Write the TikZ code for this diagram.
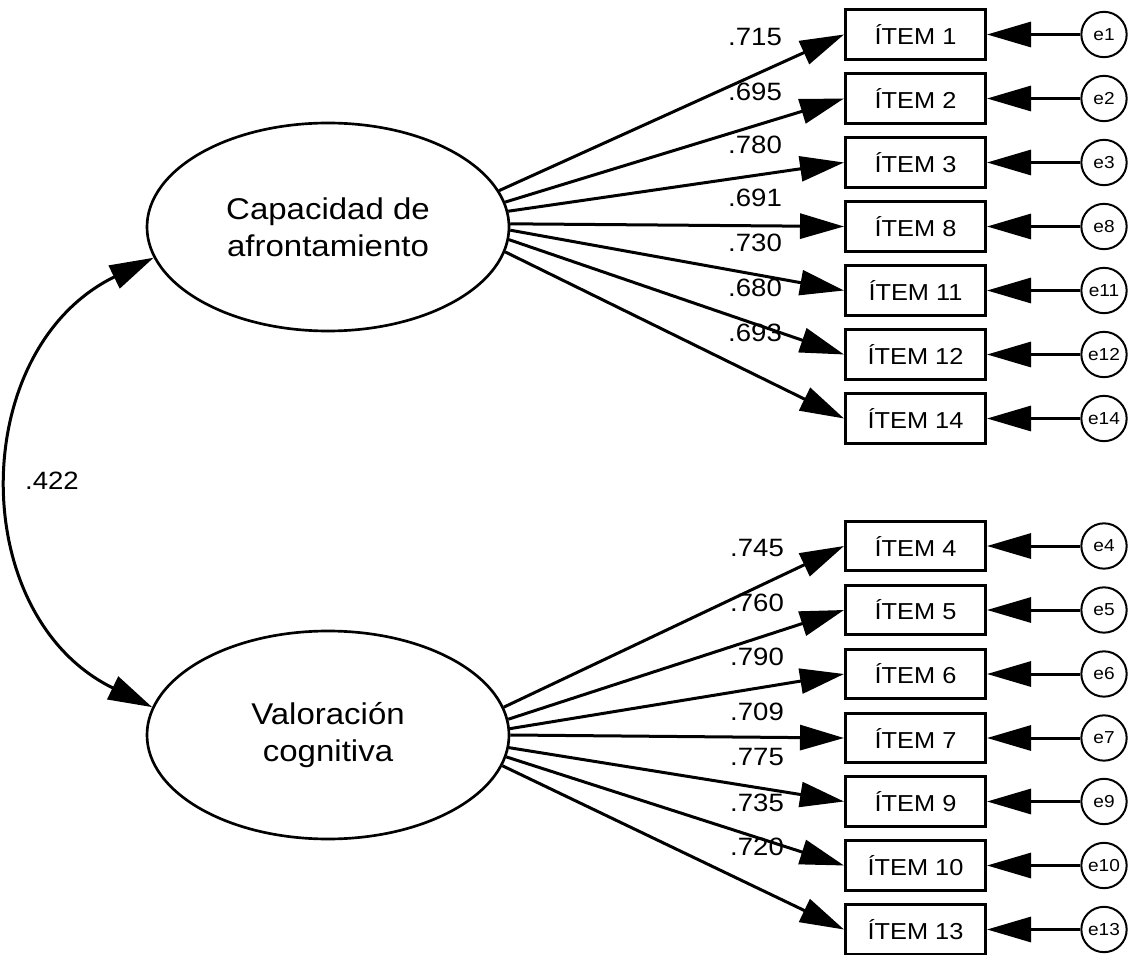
\documentclass[tikz,border=0pt]{standalone}
\usepackage{fontspec}
\setmainfont{Liberation Sans}[FakeStretch=1.1]
\usetikzlibrary{arrows.meta,shapes.geometric}

\begin{document}
\begin{tikzpicture}[x=0.75pt,y=-0.75pt,
  >={Triangle[length=33pt,width=18.75pt]},
  latent/.style={ellipse,draw,line width=2pt,minimum width=271.5pt,minimum height=156pt,inner sep=0pt,align=center,font=\fontsize{22.5}{27.5}\selectfont},
  item/.style={rectangle,draw,line width=2.25pt,minimum width=105pt,minimum height=37pt,inner sep=0pt,font=\fontsize{17.3}{19}\selectfont},
  err/.style={circle,draw,line width=1.5pt,minimum size=34pt,inner sep=0pt,font=\fontsize{13}{15}\selectfont},
  load/.style={inner sep=0pt,font=\fontsize{18.8}{20}\selectfont},
  arr/.style={->,line width=2.25pt}]
\useasboundingbox (0,0) rectangle (1132,955);

% latent factors
\node at (328,227) [latent] (cap) {Capacidad de\\afrontamiento};
\node at (328,735) [latent] (val) {Valoración\\cognitiva};

% indicators, first factor
\node at (915.5,34.5) [item] (i1) {ÍTEM 1};
\node at (915.5,98.5) [item] (i2) {ÍTEM 2};
\node at (915.5,162.5) [item] (i3) {ÍTEM 3};
\node at (915.5,226.5) [item] (i8) {ÍTEM 8};
\node at (915.5,290.5) [item] (i11) {ÍTEM 11};
\node at (915.5,354.5) [item] (i12) {ÍTEM 12};
\node at (915.5,418.5) [item] (i14) {ÍTEM 14};

% indicators, second factor
\node at (915.5,546) [item] (i4) {ÍTEM 4};
\node at (915.5,610) [item] (i5) {ÍTEM 5};
\node at (915.5,674) [item] (i6) {ÍTEM 6};
\node at (915.5,738) [item] (i7) {ÍTEM 7};
\node at (915.5,801.5) [item] (i9) {ÍTEM 9};
\node at (915.5,865.5) [item] (i10) {ÍTEM 10};
\node at (915.5,929.5) [item] (i13) {ÍTEM 13};

% errors
\node at (1104,34.5) [err] (e1) {e1};
\node at (1104,98.5) [err] (e2) {e2};
\node at (1104,162.5) [err] (e3) {e3};
\node at (1104,226.5) [err] (e8) {e8};
\node at (1104,290.5) [err] (e11) {e11};
\node at (1104,354.5) [err] (e12) {e12};
\node at (1104,418.5) [err] (e14) {e14};
\node at (1104,546) [err] (e4) {e4};
\node at (1104,610) [err] (e5) {e5};
\node at (1104,674) [err] (e6) {e6};
\node at (1104,738) [err] (e7) {e7};
\node at (1104,801.5) [err] (e9) {e9};
\node at (1104,865.5) [err] (e10) {e10};
\node at (1104,929.5) [err] (e13) {e13};

% loadings
\node at (755,37) [load] (l1) {.715};
\node at (755,92) [load] (l2) {.695};
\node at (755,145) [load] (l3) {.780};
\node at (755,198) [load] (l8) {.691};
\node at (755,243) [load] (l11) {.730};
\node at (755,288) [load] (l12) {.680};
\node at (755,333) [load] (l14) {.693};
\node at (757,548) [load] (l4) {.745};
\node at (757,603) [load] (l5) {.760};
\node at (757,657) [load] (l6) {.790};
\node at (757,712) [load] (l7) {.709};
\node at (757,757) [load] (l9) {.775};
\node at (757,803) [load] (l10) {.735};
\node at (757,847) [load] (l13) {.720};
\node at (52,481) [load] (r) {.422};

\draw[arr] (cap.12.3) -- (i1.west);
\draw[arr] (cap.8.85) -- (i2.west);
\draw[arr] (cap.5.4) -- (i3.west);
\draw[arr] (cap.1.95) -- (i8.west);
\draw[arr] (cap.-1.5) -- (i11.west);
\draw[arr] (cap.-4.95) -- (i12.west);
\draw[arr] (cap.-8.4) -- (i14.west);

\draw[arr] (val.9.1) -- (i4.west);
\draw[arr] (val.5.8) -- (i5.west);
\draw[arr] (val.2.4) -- (i6.west);
\draw[arr] (val.-0.6) -- (i7.west);
\draw[arr] (val.-4.2) -- (i9.west);
\draw[arr] (val.-7.5) -- (i10.west);
\draw[arr] (val.-10.9) -- (i13.west);

\draw[arr] (e1) -- (i1);
\draw[arr] (e2) -- (i2);
\draw[arr] (e3) -- (i3);
\draw[arr] (e8) -- (i8);
\draw[arr] (e11) -- (i11);
\draw[arr] (e12) -- (i12);
\draw[arr] (e14) -- (i14);
\draw[arr] (e4) -- (i4);
\draw[arr] (e5) -- (i5);
\draw[arr] (e6) -- (i6);
\draw[arr] (e7) -- (i7);
\draw[arr] (e9) -- (i9);
\draw[arr] (e10) -- (i10);
\draw[arr] (e13) -- (i13);

% covariance
\draw[arr,<->] (cap.190) to[out=206,in=154,looseness=1.18] (val.171);
\end{tikzpicture}
\end{document}
